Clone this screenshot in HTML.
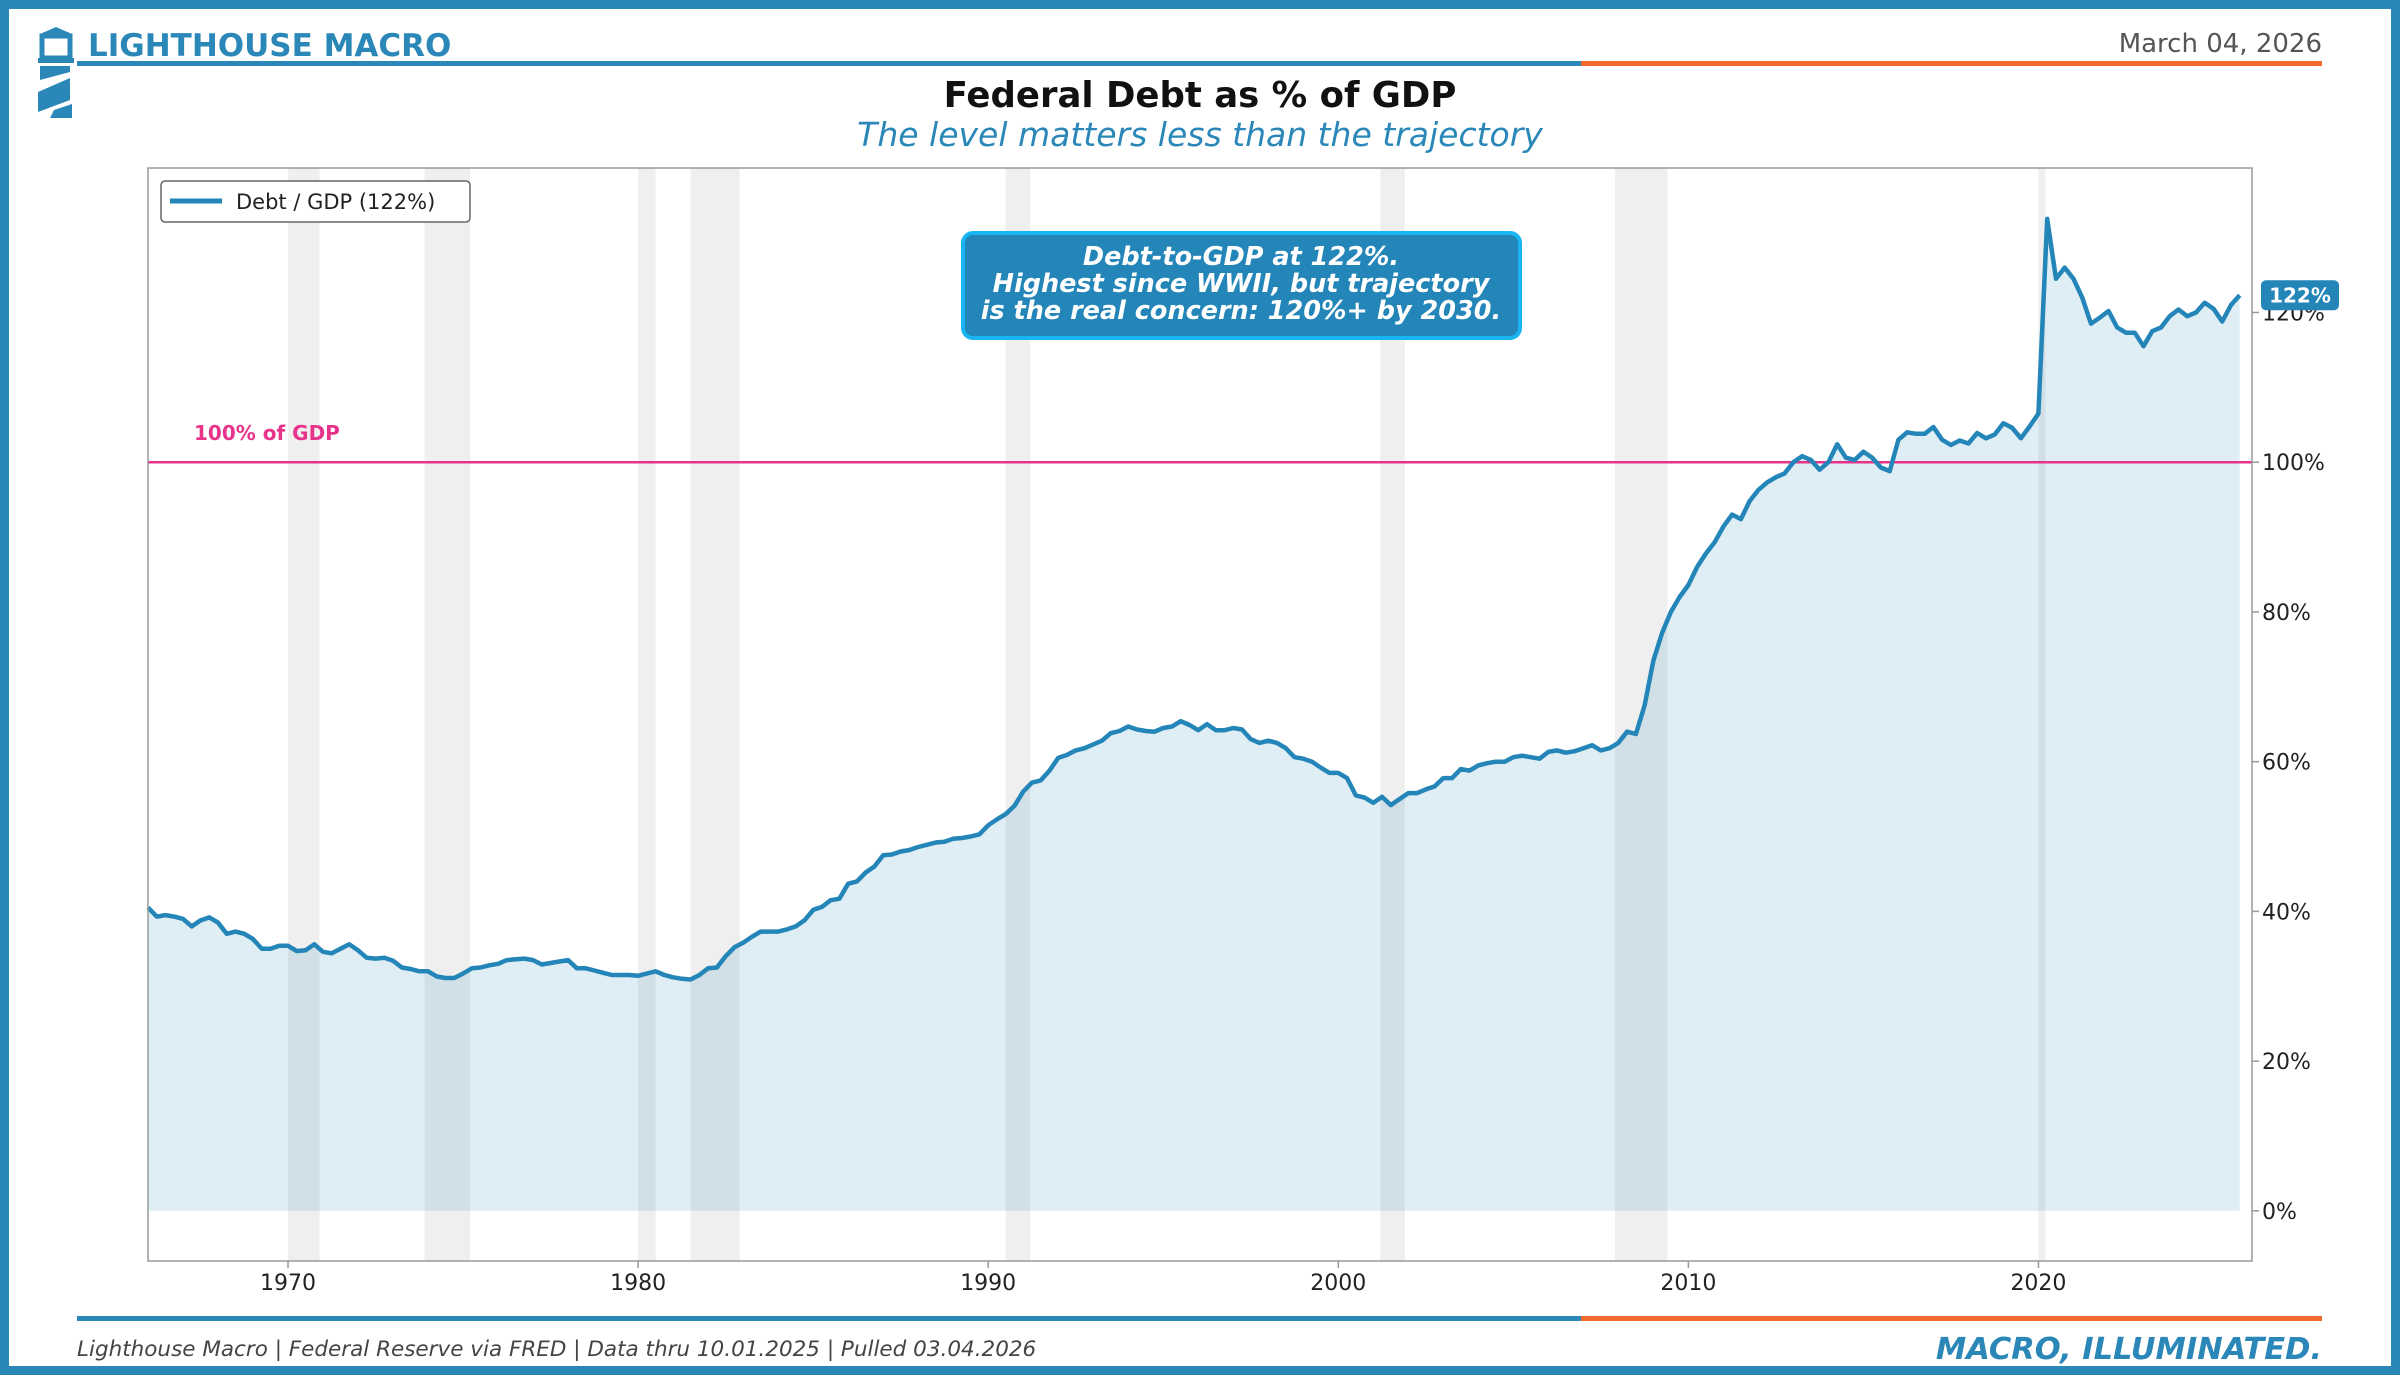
<!DOCTYPE html>
<html><head><meta charset="utf-8"><style>
html,body{margin:0;padding:0;background:#fff;}
svg{display:block;font-family:"DejaVu Sans","Liberation Sans",sans-serif;}
</style></head><body>
<svg id="chart" width="2400" height="1375" viewBox="0 0 2400 1375" xmlns="http://www.w3.org/2000/svg">
<rect x="4.5" y="4.5" width="2391" height="1366" fill="#fff" stroke="#2a87b8" stroke-width="9"/>
<g fill="#2a87b8">
<polygon points="40,34 56,27 72,34"/>
<rect x="42" y="36" width="28" height="22" fill="none" stroke="#2a87b8" stroke-width="5"/>
<rect x="38" y="58" width="36" height="5"/>
<polygon points="40,66 70,66 70,72 40,80"/>
<polygon points="38,92 70,78 70,100 38,112"/>
<polygon points="54,110 72,104 72,118 50,118"/>
</g>
<text x="88" y="56" font-size="31" font-weight="bold" fill="#2a87b8">LIGHTHOUSE MACRO</text>
<text x="2322" y="52" font-size="26" fill="#555" text-anchor="end">March 04, 2026</text>
<rect x="77" y="61" width="1504" height="5" fill="#2a87b8"/>
<rect x="1581" y="61" width="741" height="5" fill="#f26a2e"/>
<text x="1200" y="107" font-size="35.5" font-weight="bold" fill="#111" text-anchor="middle">Federal Debt as % of GDP</text>
<text x="1200" y="146" font-size="33" font-style="italic" fill="#2a87b8" text-anchor="middle">The level matters less than the trajectory</text>
<g id="plot"></g>
<rect x="77" y="1316" width="1504" height="5" fill="#2a87b8"/>
<rect x="1581" y="1316" width="741" height="5" fill="#f26a2e"/>
<text x="77" y="1356" font-size="21.5" font-style="italic" fill="#444">Lighthouse Macro | Federal Reserve via FRED | Data thru 10.01.2025 | Pulled 03.04.2026</text>
<text x="2322" y="1359" font-size="30.5" font-style="italic" font-weight="bold" fill="#2a87b8" text-anchor="end">MACRO, ILLUMINATED.</text>
</svg>
<script>
const startYear = 1966.0;
const debtPct = [
40.5,39.3,39.5,39.3, 39.0,38.0,38.8,39.2, 38.5,37.0,37.3,37.0, 36.3,35.0,35.0,35.4,
35.4,34.7,34.8,35.6, 34.6,34.4,35.0,35.6, 34.8,33.8,33.7,33.8, 33.4,32.5,32.3,32.0,
32.0,31.3,31.1,31.1, 31.7,32.4,32.5,32.8, 33.0,33.5,33.6,33.7, 33.5,32.9,33.1,33.3,
33.5,32.4,32.4,32.1, 31.8,31.5,31.5,31.5, 31.4,31.7,32.0,31.5, 31.2,31.0,30.9,31.5,
32.4,32.5,34.0,35.2, 35.8,36.6,37.3,37.3, 37.3,37.6,38.0,38.8, 40.2,40.6,41.5,41.7,
43.7,44.0,45.2,46.0, 47.5,47.6,48.0,48.2, 48.6,48.9,49.2,49.3, 49.7,49.8,50.0,50.3,
51.5,52.3,53.0,54.1, 56.0,57.2,57.5,58.8, 60.5,60.9,61.5,61.8, 62.3,62.8,63.8,64.1,
64.7,64.3,64.1,64.0, 64.5,64.7,65.4,64.9, 64.2,65.0,64.2,64.2, 64.5,64.3,63.0,62.5,
62.8,62.5,61.8,60.6, 60.4,60.0,59.2,58.5, 58.5,57.8,55.5,55.2, 54.5,55.3,54.2,55.0,
55.8,55.8,56.3,56.7, 57.8,57.8,59.0,58.8, 59.5,59.8,60.0,60.0, 60.6,60.8,60.6,60.4,
61.3,61.5,61.2,61.4, 61.8,62.2,61.5,61.8, 62.5,64.0,63.7,67.5, 73.5,77.2,80.0,82.0,
83.6,86.0,87.8,89.3, 91.4,93.0,92.4,94.8, 96.3,97.3,98.0,98.5, 100.0,100.8,100.3,99.0,
100.0,102.4,100.6,100.3, 101.4,100.6,99.3,98.8, 103.0,104.0,103.8,103.8, 104.7,103.0,102.3,102.9,
102.5,103.9,103.2,103.7, 105.2,104.6,103.2,104.8, 106.5,132.5,124.5,126.0, 124.5,122.0,118.5,119.3,
120.2,118.0,117.3,117.3, 115.5,117.5,118.0,119.5, 120.4,119.5,120.0,121.3, 120.5,118.8,121.0,122.3
];
const recStart = [1970.0,1973.9,1980.0,1981.5,1990.5,2001.2,2007.9,2020.0];
const recEnd   = [1970.9,1975.2,1980.5,1982.9,1991.2,2001.9,2009.4,2020.2];
const yTicks = [0,20,40,60,80,100,120];
const xTicks = [1970,1980,1990,2000,2010,2020];
const refLevel = 100;

const L=148,R=2252,T=168,B=1261;
const X0=1966.0,X1=2026.1,Y0=-6.7,Y1=139.3;
const sx=v=>L+(v-X0)/(X1-X0)*(R-L);
const sy=v=>B-(v-Y0)/(Y1-Y0)*(B-T);
const NS="http://www.w3.org/2000/svg";
const plot=document.getElementById('plot');
function mk(tag,attrs,parent){const e=document.createElementNS(NS,tag);for(const k in attrs)e.setAttribute(k,attrs[k]);(parent||plot).appendChild(e);return e;}

mk('rect',{x:L,y:T,width:R-L,height:B-T,fill:'#fff'});
recStart.forEach((s,i)=>{
  const r=mk('rect',{x:sx(s),y:T,width:sx(recEnd[i])-sx(s),height:B-T,fill:'#9a9a9a','fill-opacity':0.16});
  
  
});
const pts=debtPct.map((v,i)=>[sx(startYear+i*0.25),sy(v)]);
let d=pts.map((p,i)=>(i?'L':'M')+p[0].toFixed(1)+','+p[1].toFixed(1)).join('');
const area=mk('path',{d:d+'L'+pts[pts.length-1][0].toFixed(1)+','+sy(0)+'L'+pts[0][0].toFixed(1)+','+sy(0)+'Z',fill:'#2a87b8','fill-opacity':0.15});


const ref=mk('line',{x1:L,x2:R,y1:sy(refLevel),y2:sy(refLevel),stroke:'#e8338a','stroke-width':2.5});


const rl=mk('text',{x:194,y:sy(refLevel)-22,'font-size':20,'font-weight':'bold',fill:'#e8338a'});
rl.textContent='100% of GDP';


const line=mk('path',{d:d,fill:'none',stroke:'#2385b8','stroke-width':4.5,'stroke-linejoin':'round'});


mk('rect',{x:L,y:T,width:R-L,height:B-T,fill:'none',stroke:'#999','stroke-width':1.5});
yTicks.forEach(v=>{
  mk('line',{x1:R,x2:R+7,y1:sy(v),y2:sy(v),stroke:'#999','stroke-width':1.5});
  const t=mk('text',{x:R+10,y:sy(v)+8,'font-size':22,fill:'#222'});
  t.textContent=v+'%';
  
  
});
xTicks.forEach(v=>{
  mk('line',{x1:sx(v),x2:sx(v),y1:B,y2:B+7,stroke:'#999','stroke-width':1.5});
  const t=mk('text',{x:sx(v),y:B+29,'font-size':22,fill:'#222','text-anchor':'middle'});
  t.textContent=v;
  
  
});
const lg=mk('g',{});


mk('rect',{x:161,y:181,width:309,height:41,rx:4,fill:'#fff',stroke:'#666','stroke-width':1.5},lg);
mk('line',{x1:170,x2:222,y1:201,y2:201,stroke:'#2385b8','stroke-width':5},lg);
const lt=mk('text',{x:236,y:209,'font-size':21,fill:'#222'},lg);lt.textContent='Debt / GDP (122%)';
const an=mk('g',{});


mk('rect',{x:963,y:233,width:557,height:105,rx:10,fill:'#2385b8',stroke:'#19b4f2','stroke-width':4},an);
['Debt-to-GDP at 122%.','Highest since WWII, but trajectory','is the real concern: 120%+ by 2030.'].forEach((s,i)=>{
  const t=mk('text',{x:1241,y:265+i*27,'font-size':25.5,'font-weight':'bold','font-style':'italic',fill:'#fff','text-anchor':'middle'},an);t.textContent=s;
});
const last=debtPct[debtPct.length-1];
const bg=mk('g',{});


mk('rect',{x:2261,y:sy(last)-15,width:78,height:30,rx:5,fill:'#2385b8'},bg);
const bt=mk('text',{x:2300,y:sy(last)+7,'font-size':20,'font-weight':'bold',fill:'#fff','text-anchor':'middle'},bg);
bt.textContent=Math.round(last)+'%';
</script>
</body></html>
